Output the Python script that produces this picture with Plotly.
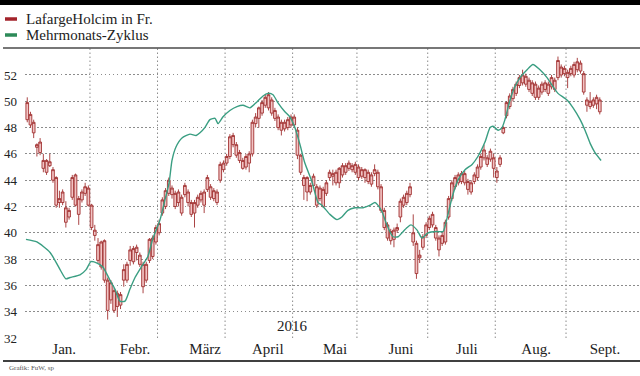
import plotly.graph_objects as go

# ---------------- data ----------------
months = ["Jan.", "Febr.", "März", "April", "Mai", "Juni", "Juli", "Aug.", "Sept."]
trading_days_per_month = [20, 21, 21, 21, 20, 22, 21, 22]   # Jan..Aug 2016 (Swiss exchange)
month_label_pos = [11.5, 33.5, 55.3, 74.8, 95.7, 116.2, 136.7, 158.2, 179.6]
y_ticks = [32, 34, 36, 38, 40, 42, 44, 46, 48, 50, 52]
year_label = "2016"

# daily candles (trading-day index 0 = 4 Jan 2016)
open_ = [
    48.6, 48.2, 47.6, 46.5, 46.1, 44.9, 44.6, 45.1, 44.0, 42.1, 42.3, 42.3, 40.8, 41.2, 42.7, 42.1, 41.4, 42.5, 43.0, 42.1,
    40.4, 39.8, 37.9, 37.4, 36.4, 34.1, 34.9, 34.1, 34.4, 34.5, 36.4, 36.4, 37.9, 37.8, 38.5, 37.6, 35.9, 36.4, 37.9, 38.2, 39.3,
    40.0, 41.5, 42.0, 43.0, 42.9, 42.0, 42.3, 41.5, 42.9, 42.3, 41.4, 41.5, 42.1, 42.5, 42.1, 43.3, 42.7, 42.6, 42.3, 44.0, 44.8,
    45.3, 45.8, 46.7, 45.9, 45.5, 44.9, 45.0, 45.3, 46.0, 48.3, 48.7, 49.1, 49.7, 49.5, 49.1, 48.7, 48.0, 47.8, 47.9, 48.0, 48.2,
    48.2, 45.9, 44.6, 43.6, 43.1, 43.1, 43.6, 42.1, 42.6, 42.0, 43.0, 44.2, 44.3, 43.8, 43.8, 44.4, 44.6, 44.9, 44.8, 44.6,
    44.2, 44.3, 44.2, 43.9, 43.7, 44.5, 43.5, 41.7, 40.4, 39.6, 39.4, 39.5, 40.2, 41.2, 42.1, 42.3, 42.9, 39.3, 36.9, 38.1, 38.9, 39.8,
    40.4, 40.6, 39.6, 38.7, 39.2, 39.3, 41.2, 42.6, 43.5, 43.8, 43.9, 43.8, 43.3, 43.1, 43.9, 44.2, 45.0, 45.7, 45.2, 45.6, 44.9,
    44.2, 45.2, 47.6, 48.9, 49.6, 50.2, 50.6, 51.2, 51.4, 51.3, 50.9, 50.6, 50.3, 50.3, 50.7, 50.9, 50.6, 51.1, 50.9, 51.8, 52.0, 52.1,
    51.8, 52.1, 52.0, 52.4, 52.3, 50.7, 49.7, 49.6, 49.7, 49.8, 49.2,
]
close = [
    49.9, 49.0, 48.4, 46.7, 46.9, 45.5, 45.5, 45.4, 44.8, 44.2, 42.6, 43.1, 41.9, 41.7, 44.2, 44.4, 42.6, 43.1, 43.5, 43.4,
    42.1, 40.2, 39.1, 39.3, 39.4, 36.4, 36.2, 35.6, 35.4, 35.3, 37.2, 37.6, 38.7, 38.8, 38.9, 38.3, 37.6, 37.6, 39.5, 39.6, 40.4,
    40.7, 42.5, 43.2, 44.0, 43.4, 43.0, 43.1, 42.7, 43.6, 43.1, 42.3, 42.3, 42.7, 43.0, 43.1, 44.2, 43.5, 43.2, 43.1, 45.2, 45.3,
    45.8, 47.3, 47.4, 46.7, 46.1, 45.5, 45.8, 46.0, 48.4, 48.8, 49.5, 49.9, 50.3, 50.5, 50.1, 49.3, 48.8, 48.4, 48.4, 48.6, 48.8,
    48.8, 47.8, 45.9, 44.2, 44.2, 43.6, 44.3, 43.5, 43.4, 43.3, 43.8, 44.6, 44.5, 44.6, 44.9, 45.1, 45.1, 45.3, 45.1, 45.2,
    45.0, 44.8, 44.8, 44.6, 44.4, 44.8, 44.6, 43.5, 41.7, 40.6, 40.1, 40.2, 40.4, 42.4, 42.7, 43.0, 43.5, 40.0, 39.2, 38.3, 39.7, 40.6,
    41.1, 41.4, 40.4, 39.6, 39.8, 40.8, 42.6, 43.8, 44.2, 44.4, 44.5, 44.5, 43.9, 43.8, 44.4, 45.0, 45.8, 46.3, 45.7, 46.2, 45.7,
    44.7, 45.7, 48.0, 49.9, 50.4, 50.9, 51.3, 51.8, 52.0, 51.9, 51.6, 51.4, 51.3, 51.0, 51.3, 51.4, 51.3, 51.8, 51.6, 53.1, 52.6, 52.5,
    52.2, 52.5, 52.8, 53.0, 52.9, 52.1, 50.1, 50.0, 50.1, 50.3, 50.1,
]
high = [
    50.3, 49.2, 48.6, 46.8, 47.2, 46.0, 45.6, 46.0, 45.0, 44.3, 43.2, 43.3, 42.4, 41.9, 44.4, 44.5, 42.8, 43.3, 43.8, 43.6,
    42.2, 40.6, 39.6, 39.4, 39.5, 36.6, 36.4, 35.8, 35.6, 35.5, 37.6, 37.8, 39.0, 39.0, 39.1, 38.5, 37.8, 37.8, 39.6, 39.8, 40.6,
    41.0, 42.7, 43.4, 44.2, 43.6, 43.2, 43.3, 42.9, 43.8, 43.3, 42.5, 42.5, 42.9, 43.2, 43.3, 44.4, 43.7, 43.4, 43.3, 45.4, 45.5,
    46.0, 47.5, 47.6, 46.9, 46.3, 45.7, 46.0, 46.2, 48.6, 49.1, 49.6, 50.1, 50.5, 50.7, 50.3, 49.5, 49.0, 48.6, 48.6, 48.8, 49.0,
    49.0, 48.0, 46.0, 44.4, 44.3, 43.8, 44.5, 43.7, 43.6, 43.5, 44.0, 44.8, 44.8, 44.8, 45.0, 45.3, 45.3, 45.5, 45.3, 45.4,
    45.2, 45.0, 44.9, 44.8, 44.6, 45.2, 44.8, 43.7, 41.9, 40.8, 40.3, 40.4, 40.7, 42.6, 42.9, 43.2, 43.8, 41.4, 39.4, 38.7, 39.9, 40.8,
    41.3, 41.6, 40.6, 39.8, 40.0, 41.0, 42.8, 44.0, 44.4, 44.6, 44.7, 44.7, 44.1, 44.0, 44.6, 45.2, 46.0, 46.7, 45.9, 46.4, 46.0,
    45.0, 45.9, 48.1, 50.0, 50.6, 51.1, 51.5, 52.0, 52.4, 52.1, 51.8, 51.6, 51.5, 51.2, 51.5, 51.6, 51.5, 52.0, 51.8, 53.4, 52.8, 52.7,
    52.4, 52.7, 53.0, 53.3, 53.1, 52.3, 50.3, 50.7, 50.3, 50.5, 50.3,
]
low = [
    48.4, 48.0, 47.2, 45.8, 45.9, 44.6, 44.4, 45.0, 43.8, 41.9, 41.9, 42.1, 40.4, 41.0, 42.5, 42.0, 40.6, 42.3, 42.8, 42.0,
    40.2, 39.4, 37.7, 37.2, 36.2, 33.4, 34.6, 33.9, 33.6, 34.2, 35.9, 36.2, 37.5, 37.6, 37.9, 37.4, 35.4, 36.2, 37.7, 38.0, 39.1,
    39.8, 41.3, 41.8, 42.8, 42.6, 41.8, 42.0, 41.3, 42.7, 42.0, 41.2, 40.4, 41.9, 42.3, 41.5, 43.1, 42.5, 42.4, 42.1, 43.8, 44.6,
    45.1, 45.6, 46.5, 45.7, 45.3, 44.8, 44.8, 44.6, 45.8, 48.0, 48.0, 48.9, 49.5, 49.3, 48.9, 48.5, 47.8, 47.4, 47.7, 47.8, 48.0,
    48.0, 45.6, 44.4, 42.5, 42.4, 42.9, 43.4, 41.9, 42.4, 41.9, 42.8, 44.0, 43.6, 43.6, 43.4, 44.2, 44.4, 44.7, 44.6, 44.4,
    44.0, 44.1, 43.8, 43.7, 43.5, 44.3, 43.3, 41.5, 40.2, 39.4, 39.1, 38.9, 40.0, 40.8, 41.9, 42.1, 42.7, 39.0, 36.5, 37.7, 38.7, 39.6,
    40.2, 40.4, 39.4, 38.2, 39.0, 39.1, 41.0, 42.4, 43.3, 43.6, 43.7, 43.6, 42.9, 42.9, 43.7, 44.0, 44.8, 45.5, 45.0, 45.4, 44.2,
    43.8, 45.0, 47.5, 48.7, 49.4, 50.0, 50.4, 51.0, 51.2, 51.1, 50.7, 50.4, 50.1, 50.1, 50.5, 50.7, 50.4, 50.9, 50.7, 51.6, 51.8, 51.9,
    51.0, 51.9, 51.8, 52.2, 52.1, 50.5, 49.2, 49.4, 49.5, 49.4, 49.0,
]
days = list(range(len(open_)))

# "Mehrmonats-Zyklus" line, points (trading-day index, value)
cycle_day = [-0.4, 3.0, 7.1, 10.2, 12.0, 13.3, 16.4, 18.3, 19.8, 21.7, 23.5, 25.7, 27.3, 28.8, 30.4, 31.9, 33.5,
             35.7, 37.5, 39.1, 41.3, 42.8, 44.1, 45.0, 46.2, 48.1, 50.6, 52.5, 53.7, 55.2, 56.8, 58.4, 59.3,
             60.8, 63.0, 65.2, 67.1, 69.2, 71.4, 73.3, 74.8, 76.4, 77.9, 80.1, 81.7, 83.2, 84.8, 86.3, 88.5,
             90.4, 91.6, 94.1, 96.3, 97.8, 99.7, 101.9, 104.4, 106.6, 108.1, 109.0, 110.3, 111.8, 113.7, 115.3,
             116.5, 118.1, 119.3, 121.2, 122.7, 124.6, 127.4, 129.3, 130.5, 132.1, 133.9, 136.1, 138.3, 140.1,
             142.3, 143.9, 144.8, 146.4, 147.6, 148.5, 150.1, 151.6, 153.2, 155.4, 157.2, 159.4, 161.6, 163.5,
             165.0, 167.8, 169.7, 171.9, 173.4, 175.0, 176.5, 178.4]
cycle_value = [39.5, 39.3, 38.5, 37.2, 36.5, 36.6, 36.8, 37.2, 37.8, 37.7, 37.4, 36.4, 35.7, 34.8, 34.8, 35.7, 36.6,
               37.5, 38.2, 39.6, 41.0, 42.5, 43.8, 45.5, 46.5, 47.2, 47.5, 47.4, 47.6, 48.0, 48.6, 48.7, 48.3,
               48.8, 49.3, 49.6, 49.7, 49.5, 49.95, 50.4, 50.6, 50.5, 49.9, 49.2, 48.8, 48.0, 46.7, 45.3, 43.9,
               42.3, 42.1, 41.4, 41.0, 41.2, 41.7, 41.9, 41.9, 42.1, 42.3, 42.1, 41.6, 40.6, 39.7, 39.7,
               40.0, 40.4, 40.6, 40.2, 39.6, 40.0, 40.1, 40.1, 41.1, 42.7, 44.0, 44.8, 45.2, 45.8,
               46.9, 48.0, 48.1, 47.8, 48.0, 48.6, 50.1, 51.1, 51.8, 52.4, 52.8, 52.4, 51.8, 51.1,
               50.6, 50.1, 49.5, 48.6, 47.8, 46.8, 46.1, 45.5]

series_names = ["LafargeHolcim in Fr.", "Mehrmonats-Zyklus"]
credit = "Grafik: FuW, sp"

# ---------------- styling ----------------
RED_LINE = "#a03030"
PINK_FILL = "#f2c4c4"
GREEN = "#3a9e82"
LEG_RED = "#a3232b"
LEG_GREEN = "#2d8a58"
GRID = "#8c8c8c"
DOTS = "1.5px,2.5px"
FONT = "Liberation Serif"
TXT = "#222222"

W, H = 640, 376
ML, MR, MT, MB = 25, 0, 48, 38
PW, PH = W - ML - MR, H - MT - MB


def px_x(px):
    return (px - ML) / PW


def px_y(py):
    return (H - MB - py) / PH


fig = go.Figure()

fig.add_trace(go.Candlestick(
    x=days, open=open_, high=high, low=low, close=close,
    increasing=dict(line=dict(color=RED_LINE, width=0.9), fillcolor=PINK_FILL),
    decreasing=dict(line=dict(color=RED_LINE, width=0.9), fillcolor=PINK_FILL),
    whiskerwidth=0, showlegend=False, hoverinfo="skip", name=series_names[0],
))

fig.add_trace(go.Scatter(
    x=cycle_day, y=cycle_value, mode="lines",
    line=dict(color=GREEN, width=1.4, shape="spline", smoothing=0.6),
    showlegend=False, hoverinfo="skip", name=series_names[1],
))

shapes = []
# month boundaries (vertical dotted grid)
b = -0.5
for n in trading_days_per_month:
    b += n
    shapes.append(dict(type="line", xref="x", yref="paper", x0=b, x1=b, y0=0, y1=1,
                       line=dict(color=GRID, width=1, dash=DOTS), layer="below"))
# header black bar and rule
shapes.append(dict(type="rect", xref="paper", yref="paper", x0=px_x(0), x1=1, y0=px_y(5), y1=px_y(-2),
                   fillcolor="#000000", line=dict(width=0)))
shapes.append(dict(type="line", xref="paper", yref="paper", x0=px_x(3), x1=1, y0=1, y1=1,
                   line=dict(color="#4a4a4a", width=1.3)))
# bottom black rule
shapes.append(dict(type="line", xref="paper", yref="paper", x0=px_x(3), x1=1, y0=px_y(361), y1=px_y(361),
                   line=dict(color="#000000", width=1.5)))
# legend keys
for i, col in enumerate([LEG_RED, LEG_GREEN]):
    yy = px_y(19 + 16 * i)
    shapes.append(dict(type="line", xref="paper", yref="paper", x0=px_x(5), x1=px_x(17), y0=yy, y1=yy,
                       line=dict(color=col, width=3.5)))

annotations = []
for i, name in enumerate(series_names):
    annotations.append(dict(xref="paper", yref="paper", x=px_x(24), y=px_y(19 + 16 * i), text=name,
                            showarrow=False, xanchor="left", yanchor="middle",
                            font=dict(family=FONT, size=15, color=TXT)))
annotations.append(dict(xref="x", yref="y", x=82.6, y=32.9, text=year_label, showarrow=False,
                        xanchor="center", yanchor="middle", font=dict(family=FONT, size=15, color=TXT)))
annotations.append(dict(xref="paper", yref="paper", x=px_x(7), y=px_y(368), text=credit, showarrow=False,
                        xanchor="left", yanchor="middle", font=dict(family=FONT, size=7, color="#555555")))

fig.update_layout(
    width=W, height=H,
    margin=dict(l=ML, r=MR, t=MT, b=MB, pad=0),
    paper_bgcolor="white", plot_bgcolor="white",
    showlegend=False,
    boxgap=0.12, boxgroupgap=0.05,
    shapes=shapes, annotations=annotations,
    xaxis=dict(range=[-0.7, 190.5], tickvals=month_label_pos, ticktext=months,
               showgrid=False, zeroline=False, showline=False, ticks="",
               tickfont=dict(family=FONT, size=15, color=TXT),
               rangeslider=dict(visible=False), fixedrange=True),
    yaxis=dict(range=[32, 54.05], tickvals=y_ticks, showgrid=True, gridcolor=GRID, griddash=DOTS,
               gridwidth=1, zeroline=False, showline=False, ticks="", ticklabelstandoff=7,
               tickfont=dict(family=FONT, size=13, color=TXT), fixedrange=True),
)

fig.write_html("out.html", config={"displayModeBar": False, "staticPlot": True},
               post_script="document.body.style.margin='0px';")
